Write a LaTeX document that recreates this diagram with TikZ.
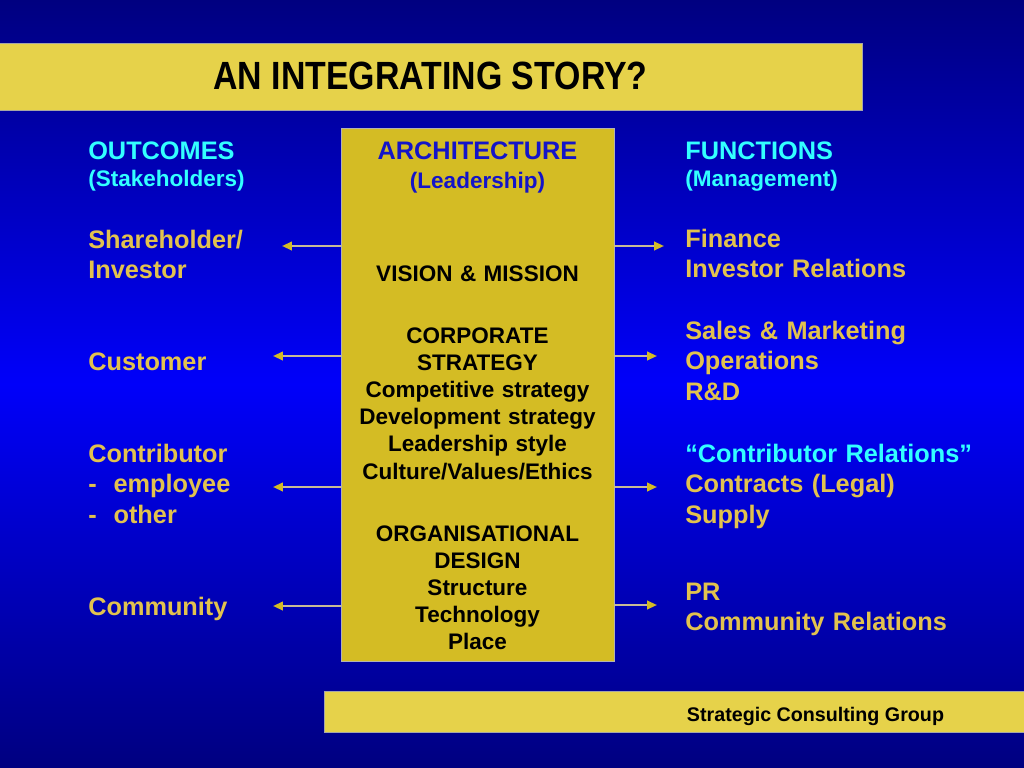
\documentclass[tikz,border=0pt]{standalone}
\usepackage{fontspec}
\setmainfont{Liberation Sans}
\usetikzlibrary{positioning, calc, arrows.meta}

\definecolor{bgdark}{RGB}{0,0,128}
\definecolor{bgbright}{RGB}{0,0,250}
\definecolor{baryellow}{RGB}{230,210,74}
\definecolor{boxgold}{RGB}{212,188,36}
\definecolor{headcyan}{RGB}{51,255,255}
\definecolor{itemgold}{RGB}{226,194,78}
\definecolor{archblue}{RGB}{20,20,200}
\definecolor{shaftgray}{RGB}{200,186,150}

\tikzset{
  hdr/.style={inner sep=0, text width=8cm, align=left, anchor=base west,
    text=headcyan, font=\bfseries\fontsize{18}{21.7}\selectfont},
  subhdr/.style={hdr, font=\bfseries\fontsize{16}{19}\selectfont},
  item/.style={hdr, text=itemgold},
  boxtext/.style={inner sep=0, text width=6.5cm, align=center, anchor=base,
    font=\bfseries\fontsize{16}{19.35}\selectfont},
  bar/.style={fill=baryellow, draw=gray!70, line width=0.5pt},
  link/.style={-{Triangle[length=7pt,width=6pt,color=boxgold]},
    line width=1.5pt, draw=shaftgray}
}

\begin{document}
\begin{tikzpicture}[x=0.025cm, y=-0.025cm]

  % background
  \useasboundingbox (0,0) rectangle (1024,768);
  \shade[top color=bgdark, bottom color=bgdark, middle color=bgbright]
    (0,0) rectangle (1024,768);

  % title and footer bars
  \draw[bar] (-2,43) rectangle (862,110);
  \node[inner sep=0, anchor=base, xscale=0.86,
    font=\bfseries\fontsize{28}{34}\selectfont] (title) at (430.5,90)
    {AN INTEGRATING STORY?};
  \draw[bar] (324,691) rectangle (1026,732);
  \node[inner sep=0, anchor=base, font=\bfseries\fontsize{14}{17}\selectfont]
    (group) at (815.5,721) {Strategic Consulting Group};

  % architecture box
  \node[fill=boxgold, draw=gray!60, line width=0.5pt, inner sep=0,
    minimum width=6.825cm, minimum height=13.325cm] (arch) at (477.5,394.5) {};

  \node[boxtext, text=archblue, font=\bfseries\fontsize{18}{21.7}\selectfont]
    (archhd) at (477.5,159) {ARCHITECTURE};
  \node[boxtext, text=archblue] (archsub) at (477.5,188) {(Leadership)};
  \node[boxtext] (vision) at (477.5,281) {VISION \& MISSION};
  \node[boxtext] (corp) at (477.5,343)
    {CORPORATE\\ STRATEGY\\ Competitive strategy\\ Development strategy\\
     Leadership style\\ Culture/Values/Ethics};
  \node[boxtext] (org) at (477.5,541)
    {ORGANISATIONAL\\ DESIGN\\ Structure\\ Technology\\ Place};

  % outcomes
  \node[hdr] (outhd) at (88,159) {OUTCOMES};
  \node[subhdr] (outsub) at (88,187) {(Stakeholders)};
  \node[item] (share) at (88,248) {Shareholder/\\ Investor};
  \node[item] (cust) at (88,370) {Customer};
  \node[item] (contr) at (88,462) {Contributor\\ - \ employee\\ - \ other};
  \node[item] (comm) at (88,615) {Community};

  % functions
  \node[hdr] (funhd) at (685,159) {FUNCTIONS};
  \node[subhdr] (funsub) at (685,187) {(Management)};
  \node[item] (fin) at (685,247) {Finance\\ Investor Relations};
  \node[item] (sales) at (685,339) {Sales \& Marketing\\ Operations\\ R\&D};
  \node[item] (rel) at (685,462)
    {\textcolor{headcyan}{“Contributor Relations”}\\ Contracts (Legal)\\ Supply};
  \node[item] (pr) at (685,600) {PR\\ Community Relations};

  % arrow ends
  \coordinate (lshare) at (282,246);
  \coordinate (lcust)  at (273,356);
  \coordinate (lcontr) at (273,487);
  \coordinate (lcomm)  at (273,606);
  \coordinate (rfin)   at (664,246);
  \coordinate (rsales) at (657,356);
  \coordinate (rrel)   at (657,487);
  \coordinate (rpr)    at (657,605);

  \draw[link] (lshare -| arch.west) -- (lshare);
  \draw[link] (lcust -| arch.west) -- (lcust);
  \draw[link] (lcontr -| arch.west) -- (lcontr);
  \draw[link] (lcomm -| arch.west) -- (lcomm);
  \draw[link] (rfin -| arch.east) -- (rfin);
  \draw[link] (rsales -| arch.east) -- (rsales);
  \draw[link] (rrel -| arch.east) -- (rrel);
  \draw[link] (rpr -| arch.east) -- (rpr);

\end{tikzpicture}
\end{document}
